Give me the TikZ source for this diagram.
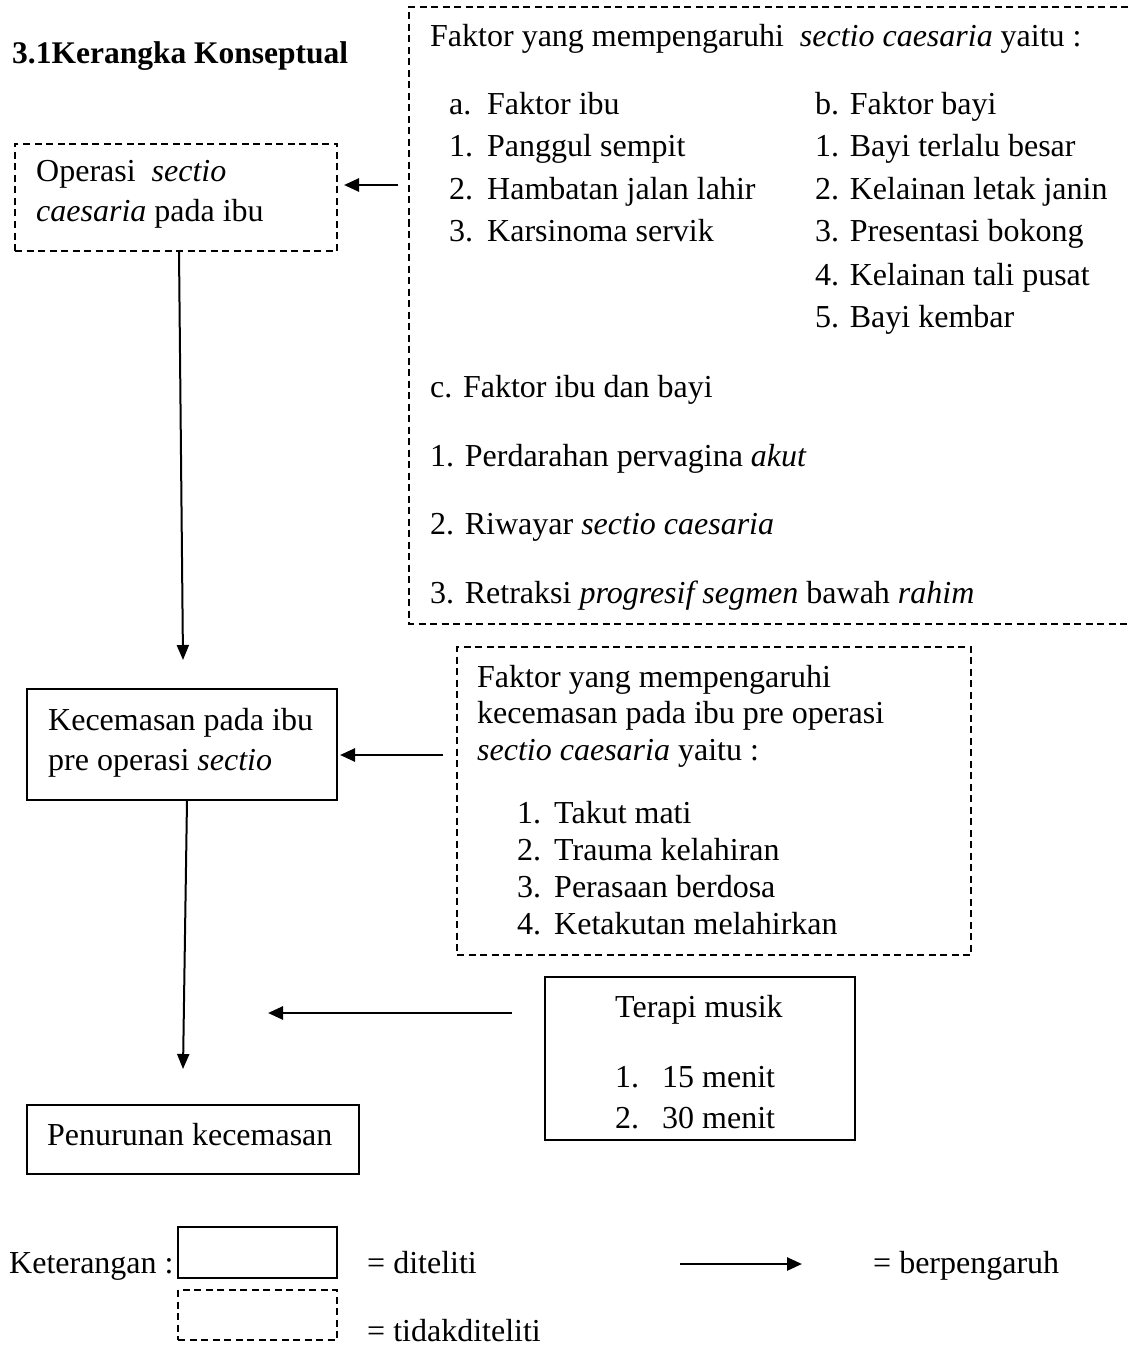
\documentclass[tikz,border=0pt]{standalone}
\usepackage{fontspec}
\setmainfont{Liberation Serif}
\usetikzlibrary{arrows.meta}
\begin{document}
\begin{tikzpicture}[x=1pt,y=-1pt,
  txt/.style={anchor=base west,inner sep=0pt,font=\fontsize{32}{38}\selectfont},
  solidbox/.style={draw,line width=1.8pt,inner sep=0pt,outer sep=0pt},
  dashbox/.style={line width=1.5pt,dash pattern=on 7pt off 4.5pt},
  ghost/.style={inner sep=0pt,outer sep=0pt},
  arr/.style={line width=2pt,-{Triangle[length=15pt,width=12pt]}},
  harr/.style={line width=2.6pt,-{Triangle[length=15pt,width=13pt]}}]
\useasboundingbox (0,0) rectangle (1128,1348);
% boxes
\node[ghost,minimum width=719pt,minimum height=617pt] (fak1) at (768.5,315.5) {};
\draw[dashbox] (fak1.north east) -- (fak1.north west) -- (fak1.south west) -- (fak1.south east);
\node[ghost,draw,dashbox,minimum width=322pt,minimum height=107pt] (op) at (176,197.5) {};
\node[solidbox,minimum width=310pt,minimum height=111pt] (kec) at (182,744.5) {};
\node[ghost,draw,dashbox,minimum width=514pt,minimum height=308pt] (f2) at (714,801) {};
\node[solidbox,minimum width=310pt,minimum height=163pt] (terapi) at (700,1058.5) {};
\node[solidbox,minimum width=332pt,minimum height=69pt] (pen) at (193,1139.5) {};
\node[solidbox,minimum width=159pt,minimum height=51pt] (legs) at (257.5,1252.5) {};
\node[ghost,draw,dashbox,minimum width=159pt,minimum height=50pt] (legd) at (257.5,1315) {};
% texts
\node[txt,font=\fontsize{31.5}{38}\selectfont\bfseries] (title) at (12,64) {3.1Kerangka Konseptual};
\node[txt] (op1) at (36,182) {Operasi\ \ \textit{sectio}};
\node[txt] (op2) at (36,222) {\textit{caesaria} pada ibu};
\node[txt] (h1) at (430,47) {Faktor yang mempengaruhi\ \ \textit{sectio caesaria} yaitu :};
\node[txt] (la) at (449,115) {a.};
\node[txt] (lat) at (487,115) {Faktor ibu};
\node[txt] (l1) at (449,157) {1.};
\node[txt] (l1t) at (487,157) {Panggul sempit};
\node[txt] (l2) at (449,200) {2.};
\node[txt] (l2t) at (487,200) {Hambatan jalan lahir};
\node[txt] (l3) at (449,242) {3.};
\node[txt] (l3t) at (487,242) {Karsinoma servik};
\node[txt] (rb) at (815,115) {b. Faktor bayi};
\node[txt] (r1) at (815,157) {1. Bayi terlalu besar};
\node[txt] (r2) at (815,200) {2. Kelainan letak janin};
\node[txt] (r3) at (815,242) {3. Presentasi bokong};
\node[txt] (r4) at (815,285) {4. Kelainan tali pusat};
\node[txt] (r5) at (815,327) {5. Bayi kembar};
\node[txt] (cc) at (430,397) {c. Faktor ibu dan bayi};
\node[txt] (c1) at (430,466) {1. Perdarahan pervagina \textit{akut}};
\node[txt] (c2) at (430,534) {2. Riwayar \textit{sectio caesaria}};
\node[txt] (c3) at (430,603) {3. Retraksi \textit{progresif segmen} bawah \textit{rahim}};
\node[txt] (k1) at (48,730) {Kecemasan pada ibu};
\node[txt] (k2) at (48,770) {pre operasi \textit{sectio}};
\node[txt] (g1) at (477,687) {Faktor yang mempengaruhi};
\node[txt] (g2) at (477,723) {kecemasan pada ibu pre operasi};
\node[txt] (g3) at (477,760) {\textit{sectio caesaria} yaitu :};
\node[txt] (n1) at (517,823) {1.};
\node[txt] (n1t) at (554,823) {Takut mati};
\node[txt] (n2) at (517,860) {2.};
\node[txt] (n2t) at (554,860) {Trauma kelahiran};
\node[txt] (n3) at (517,897) {3.};
\node[txt] (n3t) at (554,897) {Perasaan berdosa};
\node[txt] (n4) at (517,934) {4.};
\node[txt] (n4t) at (554,934) {Ketakutan melahirkan};
\node[txt] (tm) at (615,1017) {Terapi musik};
\node[txt] (m1) at (615,1087) {1.};
\node[txt] (m1t) at (662,1087) {15 menit};
\node[txt] (m2) at (615,1128) {2.};
\node[txt] (m2t) at (662,1128) {30 menit};
\node[txt] (pt) at (47,1145) {Penurunan kecemasan};
\node[txt] (ket) at (9,1273) {Keterangan :};
\node[txt] (dit) at (367,1273) {= diteliti};
\node[txt] (tdit) at (367,1341) {= tidakditeliti};
\node[txt] (berp) at (873,1273) {= berpengaruh};
% connectors
\coordinate (a1s) at (398,185);
\draw[harr] (a1s) -- ([xshift=7pt]op.east |- a1s);
\coordinate (v1e) at (183,660);
\draw[arr] ([xshift=3pt]op.south) -- (v1e);
\coordinate (a2s) at (443,755);
\draw[harr] (a2s) -- ([xshift=3pt]kec.east |- a2s);
\coordinate (v2e) at (183,1069);
\draw[arr] ([xshift=5pt]kec.south) -- (v2e);
\coordinate (a3e) at (268,1013);
\draw[harr] ([xshift=-33pt]terapi.west |- a3e) -- (a3e);
\coordinate (ls) at (680,1264);
\coordinate (le) at (802,1264);
\draw[harr] (ls) -- (le);
\end{tikzpicture}
\end{document}
